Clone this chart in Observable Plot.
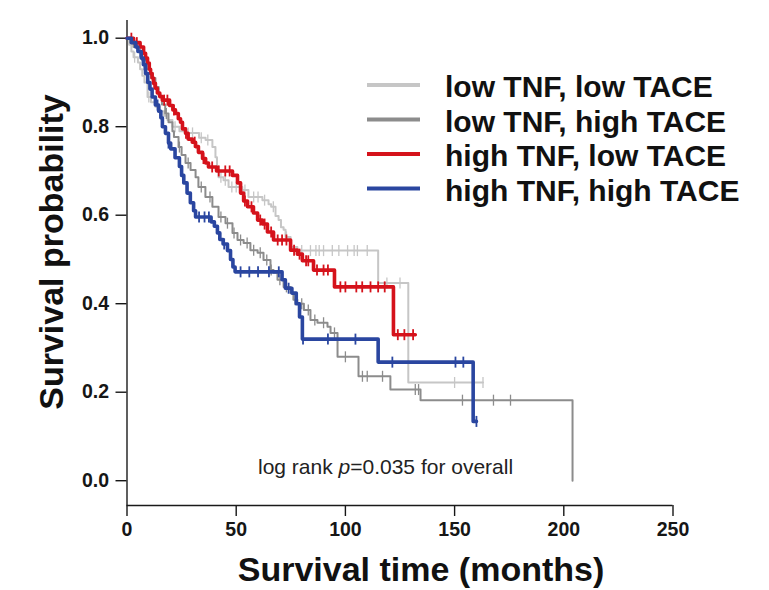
<!DOCTYPE html>
<html>
<head>
<meta charset="utf-8">
<script src="https://cdn.jsdelivr.net/npm/d3@7"></script>
<script src="https://cdn.jsdelivr.net/npm/@observablehq/plot@0.6"></script>
<style>
  html, body { margin: 0; padding: 0; background: #ffffff; }
  #chart { width: 769px; height: 590px; }
  svg { font-family: "Liberation Sans", Arial, sans-serif; }
</style>
</head>
<body>
<div id="chart"></div>
<script>
// ---- Data ----
const seriesNames = ["low TNF, low TACE", "low TNF, high TACE", "high TNF, low TACE", "high TNF, high TACE"];
const seriesColors = ["#c6c6c6", "#8c8c8c", "#d5121b", "#2a46a0"];
const seriesWidths = [2, 2, 3.6, 3.6];

// low TNF, low TACE (light gray)
const lgTimes = [0,1,2,3,5,6,7,8,9.4,11,13,15,17,18.5,20.8,24,26.8,33,36,39.1,40.5,41.2,41.9,44.2,46.5,52.8,55.6,62,64.8,66,68,69.4,70.5,71.7,72.6,74.9,78,115,128.8,163];
const lgSurv  = [1,0.985,0.97,0.957,0.945,0.93,0.915,0.90,0.867,0.855,0.845,0.835,0.825,0.815,0.80,0.79,0.786,0.775,0.77,0.754,0.731,0.71,0.686,0.679,0.664,0.657,0.641,0.634,0.625,0.619,0.598,0.589,0.573,0.567,0.551,0.528,0.52,0.447,0.222,0.222];
const lgCensor = [3.5,10,22,28,30,34,37,43,45,48,50,54,58,60,63,67,73,80,84,86.5,88,90,94,97,101,104,105.5,110,119,125,150,163];

// low TNF, high TACE (dark gray)
const dgTimes = [0,1.5,3,5,7,9,11,13,14.5,16,17.5,19,20.8,21.5,23.6,25,26.8,29.1,31.4,32.7,35.9,39.1,41.9,45.1,48.3,50.6,53.4,56.5,59.8,62.5,65.7,67.1,68.9,71.7,74.9,76.2,78,81,84,87.2,91.8,93.2,96.4,106,120.6,134.4,204];
const dgSurv  = [1,0.99,0.98,0.97,0.95,0.93,0.91,0.89,0.87,0.85,0.83,0.81,0.79,0.777,0.754,0.736,0.718,0.702,0.686,0.664,0.641,0.619,0.596,0.582,0.56,0.544,0.537,0.521,0.515,0.499,0.476,0.47,0.454,0.438,0.424,0.409,0.40,0.386,0.363,0.357,0.348,0.334,0.28,0.236,0.206,0.182,0];
const dgCensor = [6,12,18,24,28,34,38,43,46,49,52,55,58,61,64,66,70,73,77,80,83,86,90,95,100,107.8,110,117,132,133.5,153.6,167.8,175.6];

// high TNF, low TACE (red)
const redTimes = [0,3,6,7.6,8.5,9.4,10.2,10.8,11.5,12.1,13,13.9,15,16.2,19.5,21,22.2,23.5,24.5,25.4,26.8,28,29.9,31.4,32.7,34.6,36,37.3,41,48.3,50.6,52,53.4,55.2,57.9,59.8,62,64.3,67.1,74.9,78,80.3,85.4,95,122,132];
const redSurv  = [1,0.99,0.98,0.966,0.955,0.944,0.93,0.92,0.91,0.898,0.887,0.876,0.868,0.86,0.848,0.838,0.83,0.818,0.81,0.795,0.785,0.772,0.765,0.755,0.742,0.728,0.718,0.709,0.70,0.69,0.673,0.65,0.632,0.619,0.605,0.589,0.58,0.562,0.544,0.521,0.512,0.497,0.476,0.438,0.33,0.33];
const redCensor = [2,4.5,12.5,17,18.5,21.5,27,31,35,39,42,45,47,54,57,61,63,66,69,71,73,76.5,79,82,83,87,90,92,97.7,100,105,107.7,111.5,115,118,124,127,131];

// high TNF, high TACE (blue)
const blueTimes = [0,2,4,5,6.5,7.5,8.5,9.5,10.5,11.5,13,14.5,15.5,16.2,17.6,19,20,22,24,25,26,27.5,29,30.5,31.4,38.5,40,41.4,42.5,44,46,47.4,48.5,49.5,71,72.5,75.5,77.5,79,80.3,115,158.5,160];
const blueSurv  = [1,0.99,0.98,0.97,0.955,0.94,0.92,0.90,0.885,0.867,0.849,0.835,0.82,0.80,0.785,0.763,0.75,0.73,0.71,0.69,0.673,0.65,0.628,0.61,0.596,0.585,0.575,0.56,0.545,0.535,0.52,0.50,0.483,0.472,0.454,0.435,0.424,0.40,0.37,0.32,0.268,0.134,0.134];
const blueCensor = [8,14,19,33,35.5,37.5,44.5,52,56,60,65,69.5,74,80.6,92,104.6,121.5,150.4,154,160];

const xTicks = [0, 50, 100, 150, 200, 250];
const yTicks = [0, 0.2, 0.4, 0.6, 0.8, 1.0];
const xTitle = "Survival time (months)";
const yTitle = "Survival probability";
const pValue = "0.035";

// ---- Build tables ----
const raw = [
  [lgTimes, lgSurv, lgCensor],
  [dgTimes, dgSurv, dgCensor],
  [redTimes, redSurv, redCensor],
  [blueTimes, blueSurv, blueCensor]
];
function survAt(T, S, t) {
  let v = S[0];
  for (let i = 0; i < T.length; i++) if (T[i] <= t) v = S[i];
  return v;
}
const curves = raw.map(([T, S], k) => T.map((t, i) => ({t, s: S[i], group: seriesNames[k]})));
const censors = raw.map(([T, S, C], k) => C.map(t => ({t, s: survAt(T, S, t), group: seriesNames[k]})));

const vtick = {
  draw(ctx, size) {
    const r = Math.sqrt(size / Math.PI);
    ctx.moveTo(0, -r);
    ctx.lineTo(0, r);
  }
};

const yMin = -0.056, yMax = 1.04;
const marks = [
  Plot.ruleX([0], {stroke: "#1a1a1a", strokeWidth: 1.4}),
  Plot.ruleY([yMin], {stroke: "#1a1a1a", strokeWidth: 1.4})
];
curves.forEach((c, k) => {
  marks.push(Plot.line(c, {x: "t", y: "s", curve: "step-after", stroke: seriesColors[k], strokeWidth: seriesWidths[k]}));
  marks.push(Plot.dot(censors[k], {x: "t", y: "s", symbol: vtick, r: 5.5, fill: "none", stroke: seriesColors[k], strokeWidth: k >= 2 ? 1.8 : 1.3}));
});

const plot = Plot.plot({
  width: 769,
  height: 590,
  marginLeft: 126.5,
  marginRight: 96.5,
  marginTop: 20,
  marginBottom: 85,
  style: {fontFamily: "'Liberation Sans', Arial, sans-serif", fontSize: "19px", fontWeight: "bold", color: "#161616", background: "#ffffff"},
  x: {domain: [0, 250], ticks: xTicks, tickSize: 11, tickPadding: 6, tickFormat: d3.format("d"), label: null},
  y: {domain: [yMin, yMax], ticks: yTicks, tickSize: 11, tickPadding: 7, tickFormat: d3.format(".1f"), label: null},
  marks
});

const svg = d3.select(plot);
svg.selectAll('g[aria-label$="tick label"]').attr("font-size", 19.5).attr("font-weight", "bold");
svg.selectAll('g[aria-label$="tick label"] text').attr("font-size", 19.5);
svg.selectAll('g[aria-label$="tick"]').attr("stroke-width", 1.4);

// axis titles
svg.append("text")
  .attr("x", 421).attr("y", 581)
  .attr("text-anchor", "middle")
  .attr("font-size", 34).attr("font-weight", "bold").attr("fill", "#111")
  .text(xTitle);
svg.append("text")
  .attr("transform", "translate(63,252) rotate(-90)")
  .attr("text-anchor", "middle")
  .attr("font-size", 34).attr("font-weight", "bold").attr("fill", "#111")
  .text(yTitle);

// legend
const lg = svg.append("g").attr("text-anchor", "start");
seriesNames.forEach((name, i) => {
  const yy = 85 + i * 34.5;
  lg.append("line").attr("x1", 367).attr("x2", 420).attr("y1", yy).attr("y2", yy)
    .attr("stroke", seriesColors[i]).attr("stroke-width", 4);
  lg.append("text").attr("x", 445).attr("y", yy + 12)
    .attr("text-anchor", "start")
    .attr("font-size", 30).attr("font-weight", "bold").attr("fill", "#111")
    .text(name);
});

// log rank annotation
const ann = svg.append("text").attr("x", 258).attr("y", 474)
  .attr("text-anchor", "start")
  .attr("font-size", 21).attr("font-weight", "normal").attr("fill", "#222");
ann.append("tspan").text("log rank ");
ann.append("tspan").attr("font-style", "italic").text("p");
ann.append("tspan").text("=" + pValue + " for overall");

document.getElementById("chart").appendChild(plot);
</script>
</body>
</html>
